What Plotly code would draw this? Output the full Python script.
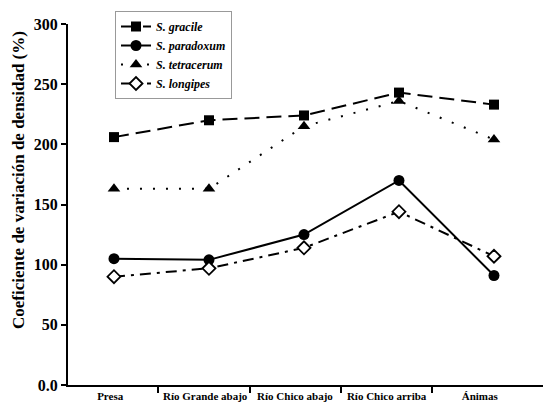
import plotly.graph_objects as go

categories = ["Presa", "Río Grande abajo", "Río Chico abajo", "Río Chico arriba", "Ánimas"]
s_gracile = [206, 220, 224, 243, 233]
s_paradoxum = [105, 104, 125, 170, 91]
s_tetracerum = [163, 163, 215, 236, 204]
s_longipes = [90, 97, 114, 144, 107]
y_ticks = [0, 50, 100, 150, 200, 250, 300]
y_tick_labels = ["0.0", "50", "100", "150", "200", "250", "300"]

xpos = list(range(len(categories)))
# label and separator positions (GraphPad-style offsets)
label_pos = [-0.04, 0.96, 1.905, 2.87, 3.85]
sep_pos = [0.46, 1.43, 2.39, 3.35]

series = [
    ("<i>S. gracile</i>", s_gracile, dict(symbol="square", size=10, color="black"), "15px,7px"),
    ("<i>S. paradoxum</i>", s_paradoxum, dict(symbol="circle", size=11, color="black"), "solid"),
    ("<i>S. tetracerum</i>", s_tetracerum, dict(symbol="triangle-up", size=11, color="black"), "2px,11px"),
    ("<i>S. longipes</i>", s_longipes, dict(symbol="diamond", size=10, color="white",
                                             line=dict(color="black", width=1.8)), "11px,6px,3px,6px"),
]

fig = go.Figure()
for name, vals, marker, dash in series:
    fig.add_trace(go.Scatter(
        x=xpos, y=vals, name=name, mode="lines+markers",
        line=dict(color="black", width=2, dash=dash),
        marker=marker,
    ))

font_family = "Liberation Serif, Times New Roman, serif"
fig.update_layout(
    width=543, height=409,
    margin=dict(l=68, r=0, t=24, b=24, autoexpand=False),
    paper_bgcolor="white", plot_bgcolor="white",
    showlegend=True,
    legend=dict(
        xref="container", yref="container",
        x=115 / 543, y=1 - 11 / 409, xanchor="left", yanchor="top",
        bordercolor="#999999", borderwidth=1, bgcolor="white",
        font=dict(family=font_family, size=12, color="black", weight="bold"),
        tracegroupgap=0,
    ),
    xaxis=dict(
        range=[-0.484, 4.516],
        showgrid=False, zeroline=False,
        showline=True, linecolor="black", linewidth=2,
        tickmode="array", tickvals=label_pos, ticktext=categories,
        ticks="",
        automargin=False,
        tickfont=dict(family=font_family, size=11, color="black", weight="bold"),
        minor=dict(tickmode="array", tickvals=sep_pos, ticks="outside",
                   ticklen=6, tickwidth=2, tickcolor="black", showgrid=False),
    ),
    yaxis=dict(
        range=[0, 300],
        showgrid=False, zeroline=False,
        showline=True, linecolor="black", linewidth=2,
        tickmode="array", tickvals=y_ticks, ticktext=y_tick_labels,
        ticks="outside", ticklen=5, tickwidth=2, tickcolor="black",
        automargin=False,
        tickfont=dict(family=font_family, size=16, color="black", weight="bold"),
    ),
    annotations=[dict(
        text="Coeficiente de variación de densidad (%)",
        xref="paper", yref="paper", x=-0.103, y=0.568,
        xanchor="center", yanchor="middle", textangle=-90, showarrow=False,
        font=dict(family=font_family, size=17, color="black", weight="bold"),
    )],
)

fig.write_html("out.html",
               config={"displayModeBar": False},
               post_script="document.body.style.margin='0';document.body.style.padding='0';")
